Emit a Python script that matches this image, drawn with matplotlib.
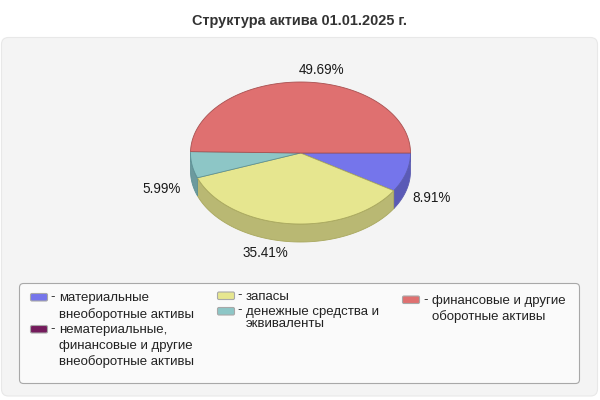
import numpy as np
import matplotlib
matplotlib.use("Agg")
import matplotlib.pyplot as plt
from matplotlib.patches import FancyBboxPatch

plt.rcParams['font.family'] = ['Liberation Sans', 'DejaVu Sans']

title = "Структура актива 01.01.2025 г."
categories = ["материальные внеоборотные активы",
              "нематериальные, финансовые и другие внеоборотные активы",
              "запасы",
              "денежные средства и эквиваленты",
              "финансовые и другие оборотные активы"]
values = [8.91, 0.0, 35.41, 5.99, 49.69]
top_colors = ["#7575EB", "#741B5C", "#E6E68F", "#8DC6C6", "#DF7070"]
wall_colors = ["#5A5AB6", "#5A1548", "#B9B873", "#6C9A9E", "#AD5757"]
edge_colors = ["#5C5CB0", "#5A1548", "#A9A85E", "#5E9296", "#A85050"]

fig = plt.figure(figsize=(6, 4), dpi=100, facecolor="white")
ax = fig.add_axes([0, 0, 1, 1])
ax.set_xlim(0, 600)
ax.set_ylim(400, 0)
ax.axis("off")
FS = 13.3 * 72 / 100
FS_LABEL = 13.5 * 72 / 100
FS_TITLE = 14.5 * 72 / 100

ax.text(300, 20.5, title, ha="center", va="center", fontsize=FS_TITLE, fontweight="bold", color="#333333")
ax.add_patch(FancyBboxPatch((1.5, 37.5), 596, 358.5, boxstyle="round,pad=0,rounding_size=7",
                            fc="#F4F4F4", ec="#E8E8E8", lw=0.8))

cx, cy, rx, ry, depth = 300.5, 153, 110, 71, 18
fr = np.array(values) / sum(values)
ends = np.cumsum(fr) * 2 * np.pi
starts = ends - fr * 2 * np.pi

# side walls (front half only)
for s, e, wc, ec in zip(starts, ends, wall_colors, edge_colors):
    a, b = s, min(e, np.pi)
    if b <= a:
        continue
    t = np.linspace(a, b, 80)
    x = cx + rx * np.cos(t)
    y = cy + ry * np.sin(t)
    ax.fill(np.r_[x, x[::-1]], np.r_[y, y[::-1] + depth], fc=wc, ec=ec, lw=0.6, zorder=2)

# top faces
for s, e, tc, ec in zip(starts, ends, top_colors, edge_colors):
    if e - s <= 0:
        continue
    t = np.linspace(s, e, 160)
    x = np.r_[cx, cx + rx * np.cos(t)]
    y = np.r_[cy, cy + ry * np.sin(t)]
    ax.fill(x, y, fc=tc, ec=ec, lw=0.6, zorder=3)

# value labels
label_texts = [f"{v:.2f}%" for v in values]
label_pos = {0: (432, 198), 2: (265, 253), 3: (162, 189), 4: (322, 70.5)}
for i, (px, py) in label_pos.items():
    ax.text(px, py, label_texts[i], ha="center", va="center", fontsize=FS_LABEL, color="#1A1A1A", zorder=5)

# legend
ax.add_patch(FancyBboxPatch((19.5, 283.5), 560, 100, boxstyle="round,pad=0,rounding_size=4",
                            fc="#FAFAFA", ec="#A8A8A8", lw=0.8, zorder=4))
legend_layout = [
    (30.5, 293.5, 59, ["материальные", "внеоборотные активы"], [298.5, 314.5]),
    (30.5, 325.5, 59, ["нематериальные,", "финансовые и другие", "внеоборотные активы"], [330, 345.5, 361.5]),
    (217.5, 292, 246, ["запасы"], [296.5]),
    (217.5, 307.5, 246, ["денежные средства и", "эквиваленты"], [311.5, 324]),
    (402.5, 296, 432, ["финансовые и другие", "оборотные активы"], [301, 316.5]),
]
for (sx, sy, tx, lines, ys), col in zip(legend_layout, top_colors):
    ax.add_patch(FancyBboxPatch((sx, sy), 17, 7.5, boxstyle="round,pad=0,rounding_size=1.5",
                                fc=col, ec="#A8A8A8", lw=0.8, zorder=5))
    ax.text(tx - 6, ys[0] - 1, "-", ha="center", va="center", fontsize=FS, color="#222222", zorder=5)
    for line, ly in zip(lines, ys):
        ax.text(tx, ly, line, ha="left", va="center", fontsize=FS, color="#222222", zorder=5)

fig.savefig("out.png", dpi=100, facecolor="white")
